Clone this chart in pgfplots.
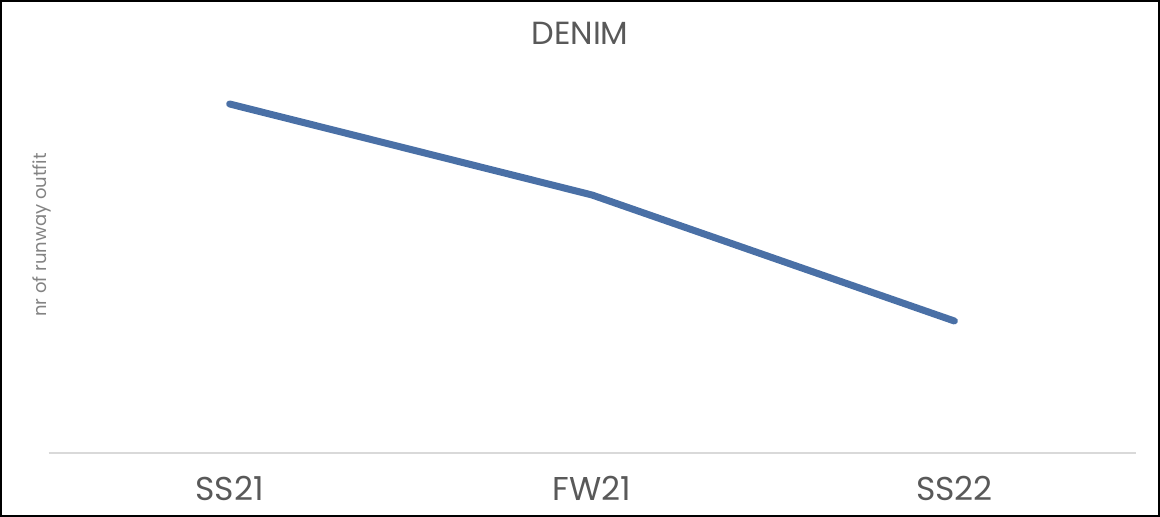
\documentclass[border=0pt]{standalone}
\usepackage{pgfplots}
\pgfplotsset{compat=1.18}
\usepackage{fontspec}
\setmainfont{Poppins}
\definecolor{lineblue}{HTML}{4A70A6}
\definecolor{txtgray}{HTML}{595959}
\definecolor{axgray}{HTML}{D9D9D9}
\begin{document}
\begin{tikzpicture}[x=1pt,y=1pt]
\useasboundingbox (0,0) rectangle (580,258.5);
\begin{axis}[
  at={(24.25pt,32pt)}, anchor=south west,
  scale only axis,
  width=543.5pt, height=196.5pt,
  xmin=-0.5, xmax=2.5, ymin=0, ymax=3.93,
  axis x line*=bottom, axis y line=none,
  x axis line style={draw=axgray, line width=1pt, -},
  xtick=data, xticklabels={SS21,FW21,SS22},
  major tick length=0pt,
  ytick=\empty,
  xticklabel style={font=\fontsize{16.5}{18}\selectfont, text=txtgray, yshift=-8pt},
  clip=false,
]
\addplot[lineblue, line width=3.5pt, line cap=round, line join=round] coordinates {(0,3.49) (1,2.58) (2,1.32)};
\end{axis}
\node[text=txtgray, font=\fontsize{16}{18}\selectfont] at (290,242) {DENIM};
\node[text=txtgray!75, rotate=90, font=\fontsize{9}{10}\selectfont] at (21,141) {nr of runway outfit};
\draw[black, line width=1pt] (0.5,0.5) rectangle (579.5,258);
\end{tikzpicture}
\end{document}
